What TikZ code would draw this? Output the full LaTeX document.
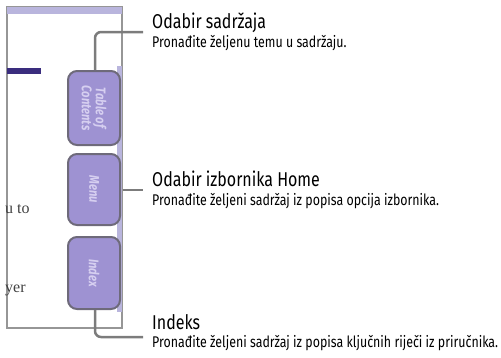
\documentclass[tikz,border=0pt]{standalone}
\usepackage{fontspec}
\newfontfamily\labelfont[FakeStretch=0.8]{Fira Sans}
\newfontfamily\pagefont{Liberation Serif}
\definecolor{tabfill}{HTML}{9E92D2}
\definecolor{tabedge}{HTML}{6E6A7A}
\definecolor{tabtext}{HTML}{D6CFF0}
\definecolor{leader}{HTML}{7C7C7C}
\definecolor{band}{HTML}{B9B5DD}
\definecolor{bar}{HTML}{3A2D7E}

\begin{document}
\begin{tikzpicture}[x=1pt, y=-1pt,
  tab/.style={rectangle, draw=tabedge, line width=2pt, fill=tabfill, rounded corners=9pt,
    minimum height=52pt, text=tabtext, align=center, rotate=-90,
    font=\labelfont\itshape\bfseries\fontsize{14}{12}\selectfont},
  title/.style={anchor=base west, inner sep=0pt, font=\labelfont\fontsize{20}{22}\selectfont},
  hint/.style={anchor=base west, inner sep=0pt, font=\labelfont\fontsize{15.5}{17}\selectfont},
  leaderline/.style={draw=leader, line width=2.5pt, rounded corners=6pt}]
  \useasboundingbox (0,0) rectangle (501,357);
  % Page
  \node (page) [rectangle, draw=leader!80, line width=1.2pt, minimum width=115pt, minimum height=321pt, inner sep=0pt] at (64.5, 167.5) {};
  \fill[band] (7,7) rectangle (122,14);
  \fill[band] (117,66) rectangle (122,312);
  \fill[bar] (7,68) rectangle (41,74);
  \node (p-1) [anchor=base west, inner sep=0pt, text=black!75, font=\pagefont\fontsize{16}{18}\selectfont] at (5,213) {u to};
  \node (p-2) [anchor=base west, inner sep=0pt, text=black!75, font=\pagefont\fontsize{16}{18}\selectfont] at (5,292) {yer};
  \draw[draw=leader!80, line width=1.2pt] (page.north east) -- (page.south east);
  % Tabs
  \node (toc) [tab, minimum width=74pt] at (94, 108) {Table of\\Contents};
  \node (menu) [tab, minimum width=71pt] at (94, 189.5) {Menu};
  \node (index) [tab, minimum width=72pt] at (94, 273) {Index};
  % Texts
  \node (t-1) [title] at (152, 28) {Odabir sadržaja};
  \node (h-1) [hint] at (152, 47) {Pronađite željenu temu u sadržaju.};
  \node (t-2) [title] at (152, 186) {Odabir izbornika Home};
  \node (h-2) [hint] at (152, 205) {Pronađite željeni sadržaj iz popisa opcija izbornika.};
  \node (t-3) [title] at (152, 329) {Indeks};
  \node (h-3) [hint] at (152, 347) {Pronađite željeni sadržaj iz popisa ključnih riječi iz priručnika.};
  % Leaders
  \coordinate (e-1) at (143, 32);
  \coordinate (e-2) at (143, 190);
  \coordinate (e-3) at (143, 337);
  \draw[leaderline] (toc.west -| 95, 0) -- (95, 32) -- (e-1);
  \draw[leaderline] (page.east |- e-2) -- (e-2);
  \draw[leaderline] (index.east -| 95, 0) -- (95, 337) -- (e-3);
\end{tikzpicture}
\end{document}
